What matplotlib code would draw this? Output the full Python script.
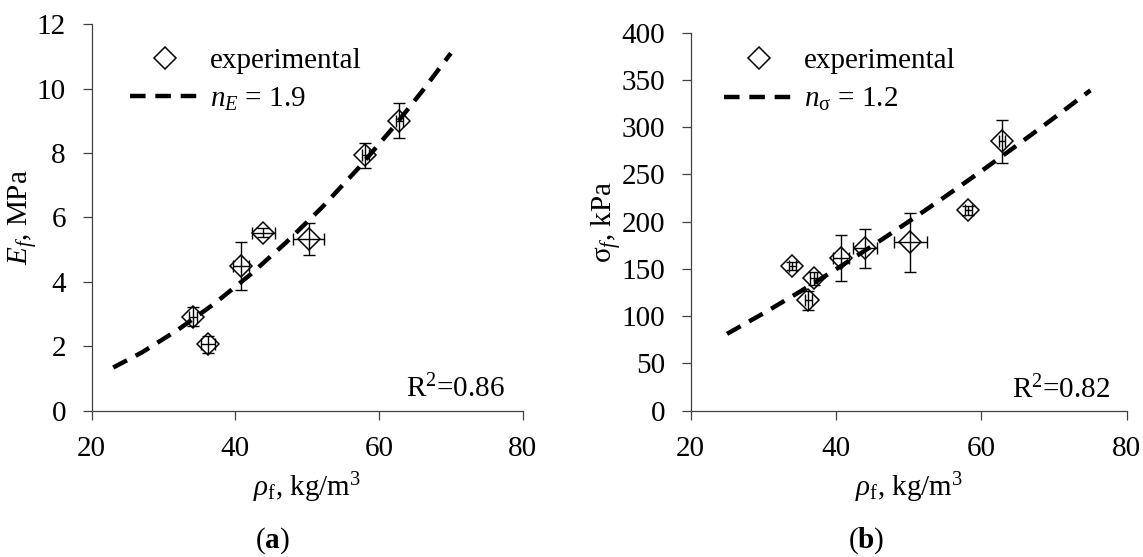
import matplotlib
matplotlib.use("Agg")
import matplotlib.pyplot as plt
from matplotlib.lines import Line2D

plt.rcParams["font.family"] = ["Liberation Serif", "DejaVu Serif"]
plt.rcParams["mathtext.fontset"] = "custom"
plt.rcParams["mathtext.rm"] = "Liberation Serif"
plt.rcParams["mathtext.it"] = "Liberation Serif:italic"
plt.rcParams["mathtext.bf"] = "Liberation Serif:bold"

# (a) modulus vs density
rho_a = [34.1, 36.2, 40.8, 43.9, 50.2, 58.1, 62.8]
rho_a_err = [0.5, 1.0, 1.15, 1.6, 2.2, 0.5, 0.5]
E = [2.92, 2.06, 4.49, 5.53, 5.32, 7.93, 9.01]
E_err = [0.30, 0.27, 0.75, 0.15, 0.50, 0.39, 0.55]

# fitted curve, n_E = 1.9
fit_a_x = [23, 27, 32, 37, 42, 47, 52, 57, 62, 66, 70]
fit_a_y = [1.34, 1.81, 2.51, 3.31, 4.21, 5.21, 6.30, 7.50, 8.80, 9.92, 11.1]

# (b) strength vs density
rho_b = [34.0, 36.9, 36.2, 40.7, 44.0, 50.2, 58.2, 62.8]
rho_b_err = [0.5, 0.5, 0.5, 1.13, 1.64, 2.26, 0.5, 0.4]
sigma = [153, 140, 117, 161.5, 172, 178, 212, 285]
sigma_err = [4, 7, 10, 24, 20.5, 31.7, 5, 23]

# fitted curve, n_sigma = 1.2
fit_b_x = [25, 30, 35, 40, 45, 50, 55, 60, 65, 70, 75]
fit_b_y = [81.3, 103, 125.8, 149.7, 174.5, 200.1, 226.5, 253.6, 281.4, 309.9, 339]

FS = 21
AXC = "#404040"


def style_axes(ax, ymax, ystep):
    ax.set_xlim(20, 80)
    ax.set_ylim(0, ymax)
    ax.set_xticks([20, 40, 60, 80])
    ax.set_yticks(range(0, ymax + 1, ystep))
    for s in ["top", "right"]:
        ax.spines[s].set_visible(False)
    for s in ["left", "bottom"]:
        ax.spines[s].set_color(AXC)
        ax.spines[s].set_linewidth(0.9)
    ax.tick_params(direction="out", length=6.5, width=0.9, color=AXC,
                   pad=12, labelsize=FS)
    ax.set_xlabel(r"$\it{ρ}_\mathrm{f}$, kg/m$^3$", fontsize=FS, labelpad=6)


def draw_panel(ax, x, xerr, y, yerr, fx, fy, fit_label):
    ax.errorbar(x, y, xerr=xerr, yerr=yerr, fmt="none", ecolor="black",
                elinewidth=1.0, capsize=4.5, capthick=1.0, zorder=3)
    ax.plot(x, y, linestyle="none", marker="D", markersize=11,
            mfc="none", mec="black", mew=1.1, zorder=4)
    ax.plot(fx, fy, color="black", lw=3.2, linestyle=(0, (3.5, 2.2)), zorder=2)
    handles = [
        Line2D([], [], linestyle="none", marker="D", markersize=11,
               mfc="none", mec="black", mew=1.1),
        Line2D([], [], color="black", lw=3.2, linestyle=(0, (3.5, 2.2))),
    ]
    return handles, ["experimental", fit_label]


fig = plt.figure(figsize=(11.43, 5.57), dpi=100)
ax1 = fig.add_axes([0.0802, 0.2627, 0.3771, 0.6937])
ax2 = fig.add_axes([0.6043, 0.2627, 0.3815, 0.6786])

style_axes(ax1, 12, 2)
h, l = draw_panel(ax1, rho_a, rho_a_err, E, E_err, fit_a_x, fit_a_y,
                  r"$n_E$ = 1.9")
ax1.legend(h, l, loc="upper left", bbox_to_anchor=(0.089, 0.94),
           frameon=False, fontsize=FS, handlelength=2.4, handletextpad=0.35,
           borderpad=0, borderaxespad=0, labelspacing=0.4)
ax1.set_ylabel(r"$E_f$, MPa", fontsize=FS)
ax1.yaxis.set_label_coords(-0.122, 0.5)
ax1.text(0.96, 0.055, r"R$^2$=0.86", transform=ax1.transAxes,
         ha="right", va="center", fontsize=FS)

style_axes(ax2, 400, 50)
h, l = draw_panel(ax2, rho_b, rho_b_err, sigma, sigma_err, fit_b_x, fit_b_y,
                  r"$n_\mathrm{σ}$ = 1.2")
ax2.legend(h, l, loc="upper left", bbox_to_anchor=(0.0755, 0.96),
           frameon=False, fontsize=FS, handlelength=2.4, handletextpad=0.35,
           borderpad=0, borderaxespad=0, labelspacing=0.4)
ax2.set_ylabel(r"σ$_f$, kPa", fontsize=FS)
ax2.yaxis.set_label_coords(-0.156, 0.5)
ax2.text(0.962, 0.055, r"R$^2$=0.82", transform=ax2.transAxes,
         ha="right", va="center", fontsize=FS)

fig.text(0.238, 0.03, r"($\mathbf{a}$)", ha="center", va="center", fontsize=FS)
fig.text(0.758, 0.03, r"($\mathbf{b}$)", ha="center", va="center", fontsize=FS)

fig.savefig("out.png", dpi=100)
